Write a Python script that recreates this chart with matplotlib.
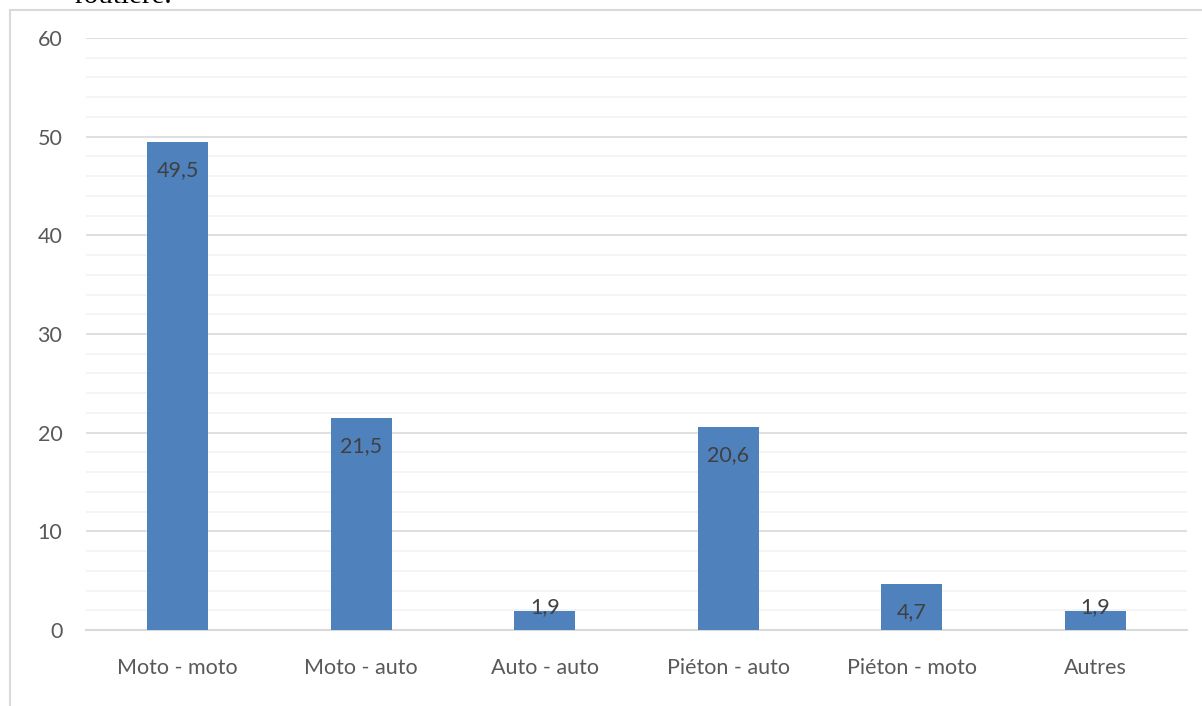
import matplotlib.pyplot as plt
from matplotlib.patches import Rectangle
from matplotlib.ticker import MultipleLocator

# Données
categories = ['Moto - moto', 'Moto - auto', 'Auto - auto',
              'Piéton - auto', 'Piéton - moto', 'Autres']
valeurs = [49.5, 21.5, 1.9, 20.6, 4.7, 1.9]
etiquettes = ['49,5', '21,5', '1,9', '20,6', '4,7', '1,9']

plt.rcParams['font.family'] = ['Lato', 'DejaVu Sans']

fig = plt.figure(figsize=(12.02, 7.06), dpi=100)
ax = fig.add_axes([86 / 1202, 1 - 630 / 706, (1187 - 86) / 1202, (630 - 38) / 706])

# cadre du graphique (coupé à droite et en bas)
fig.patches.append(Rectangle((9.5 / 1202, -0.1), 1.2, 1 - 9.5 / 706 + 0.1,
                             transform=fig.transFigure, fill=False,
                             edgecolor='#d9d9d9', linewidth=1.5, zorder=0))

# bout de titre coupé en haut
fig.text(74 / 1202, 1 - 3 / 706, 'routière.', family=['Liberation Serif', 'DejaVu Serif'],
         fontsize=21, color='black', va='baseline', ha='left')

x = range(len(categories))
bars = ax.bar(x, valeurs, width=0.33, color='#4f81bd', zorder=3)

for b, lab, v in zip(bars, etiquettes, valeurs):
    cx = b.get_x() + b.get_width() / 2
    off = -28 if v > 4 else 4
    ax.annotate(lab, (cx, v), xytext=(0, off), textcoords='offset pixels',
                ha='center', va='center', fontsize=15.5, color='#404040', zorder=4)

ax.set_xlim(-0.5, len(categories) - 0.5)
ax.set_ylim(0, 60)
ax.yaxis.set_major_locator(MultipleLocator(10))
ax.yaxis.set_minor_locator(MultipleLocator(2))
ax.grid(which='major', axis='y', color='#d9d9d9', linewidth=1.2, zorder=0)
ax.grid(which='minor', axis='y', color='#f2f2f2', linewidth=1.2, zorder=0)
ax.set_axisbelow(True)

for s in ['top', 'right', 'left']:
    ax.spines[s].set_visible(False)
ax.spines['bottom'].set_color('#d9d9d9')
ax.spines['bottom'].set_linewidth(1.5)

ax.set_xticks(list(x))
ax.set_xticklabels(categories)
ax.tick_params(axis='x', length=0, pad=20, labelsize=15.5, labelcolor='#595959')
ax.tick_params(axis='y', which='both', length=0, pad=17, labelsize=15.5, labelcolor='#595959')

fig.savefig('out.png', dpi=100)
